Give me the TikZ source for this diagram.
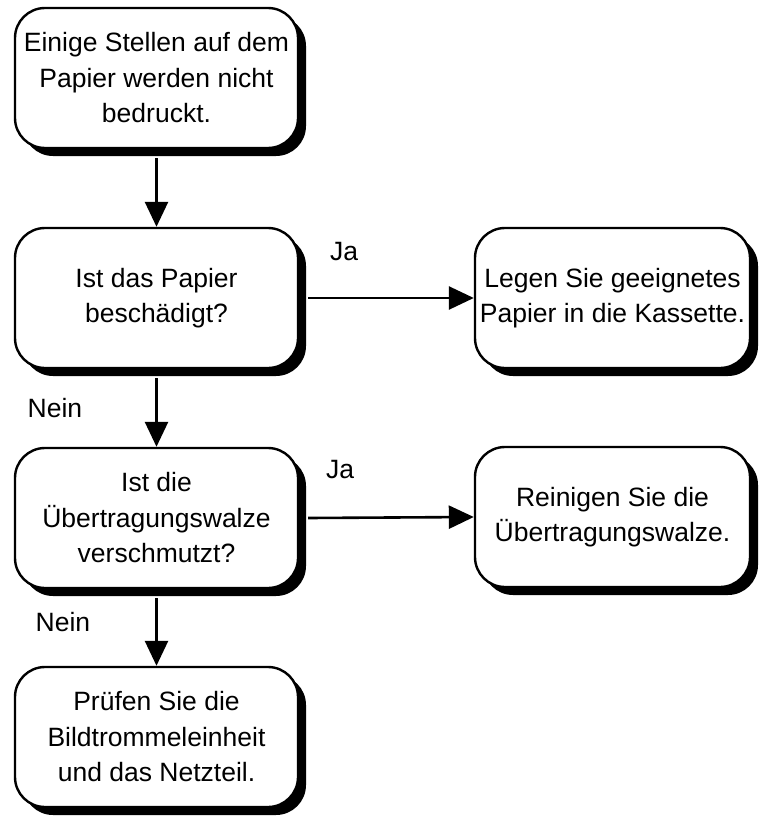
\documentclass[tikz,border=0pt]{standalone}
\usepackage{fontspec}
\setmainfont{Liberation Sans}
\usetikzlibrary{arrows.meta,shadows}
\begin{document}
\begin{tikzpicture}[x=1pt,y=-1pt,
  box/.style={draw=black, line width=2.4pt, fill=white, rounded corners=30pt,
    minimum height=140pt, align=center, inner sep=0pt,
    font=\fontsize{26.5}{35.5}\selectfont,
    drop shadow={shadow xshift=8pt, shadow yshift=-8pt, fill=black, opacity=1}},
  lbox/.style={box, minimum width=283pt},
  rbox/.style={box, minimum width=275pt},
  conn/.style={line width=2.6pt, -{Triangle[length=25pt,width=23pt]}},
  lbl/.style={font=\fontsize{26.5}{30}\selectfont}]
\useasboundingbox (0,0) rectangle (759,816);
\node[lbox] (L1) at (156.5,78) {Einige Stellen auf dem\\Papier werden nicht\\bedruckt.};
\node[lbox] (L2) at (156.5,298) {Ist das Papier\\beschädigt?};
\node[lbox] (L3) at (156.5,518) {Ist die\\Übertragungswalze\\verschmutzt?};
\node[lbox] (L4) at (156.5,737) {Prüfen Sie die\\Bildtrommeleinheit\\und das Netzteil.};
\node[rbox] (R1) at (612.5,298) {Legen Sie geeignetes\\Papier in die Kassette.};
\node[rbox] (R2) at (612.5,517) {Reinigen Sie die\\Übertragungswalze.};
\draw[conn] (L1.south) ++(0,9) -- (L2.north);
\draw[conn] (L2.south) ++(0,9) -- (L3.north);
\draw[conn] (L3.south) ++(0,9) -- (L4.north);
\draw[conn] (L2.east) ++(9,0) -- (R1.west);
\draw[conn] (L3.east) ++(9,0) -- (R2.west);
\node[lbl] (ja1) at (344,252) {Ja};
\node[lbl] (ja2) at (340,470) {Ja};
\node[lbl] (n1) at (55,408) {Nein};
\node[lbl] (n2) at (63,622) {Nein};
\end{tikzpicture}
\end{document}
